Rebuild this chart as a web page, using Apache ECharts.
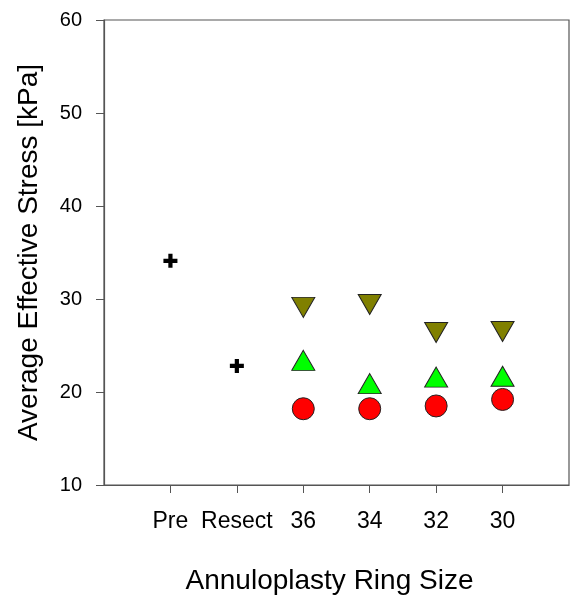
<!DOCTYPE html>
<html><head>
<meta charset="utf-8">
<title>Average Effective Stress</title>
<script src="https://cdn.jsdelivr.net/npm/echarts@6/dist/echarts.min.js"></script>
<style>
html,body{margin:0;padding:0;background:#fff;}
#main{width:577px;height:601px;}
</style>
</head>
<body>
<div id="main"></div>
<script type="text/javascript">
// category positions on the x value axis and their labels
var xPos = [1, 2, 3, 4, 5, 6];
var xLabels = ['Pre', 'Resect', '36', '34', '32', '30'];
var yTicks = [10, 20, 30, 40, 50, 60];

// Pre / Resect (plus markers)
var baseX = [1, 2];
var baseVals = [34.1, 22.8];

// ring sizes 36, 34, 32, 30
var ringX = [3, 4, 5, 6];
var downVals = [29.1, 29.4, 26.4, 26.5];   // olive down triangle
var upVals = [23.4, 20.9, 21.6, 21.7];     // green up triangle
var circleVals = [18.2, 18.2, 18.5, 19.2]; // red circle

function pairs(xs, ys) {
    var out = [];
    for (var i = 0; i < xs.length; i++) out.push([xs[i], ys[i]]);
    return out;
}

var font = 'Liberation Sans, Arial, sans-serif';
var axisColor = '#555';

var myChart = echarts.init(document.getElementById('main'));
var option = {
    animation: false,
    grid: {
        left: 104, right: 8, top: 20, bottom: 116,
        show: true, borderColor: axisColor, borderWidth: 1.2
    },
    xAxis: {
        type: 'value',
        min: 0, max: 7, interval: 1,
        name: 'Annuloplasty Ring Size',
        nameLocation: 'middle',
        nameGap: 82,
        nameTextStyle: { fontFamily: font, fontSize: 28, color: '#000', padding: [0, 14, 0, 0] },
        splitLine: { show: false },
        axisLine: { lineStyle: { color: axisColor, width: 1.2 } },
        axisTick: { length: 8, customValues: xPos, lineStyle: { color: axisColor } },
        axisLabel: {
            customValues: xPos,
            margin: 25,
            fontFamily: font, fontSize: 23, color: '#000',
            formatter: function (v) { return xLabels[xPos.indexOf(v)]; }
        }
    },
    yAxis: {
        type: 'value',
        min: 10, max: 60, interval: 10,
        name: 'Average Effective Stress [kPa]',
        nameLocation: 'middle',
        nameGap: 61,
        nameTextStyle: { fontFamily: font, fontSize: 28, color: '#000' },
        splitLine: { show: false },
        axisLine: { show: true, lineStyle: { color: axisColor, width: 1.2 } },
        axisTick: { show: true, length: 8, lineStyle: { color: axisColor } },
        axisLabel: {
            margin: 22,
            fontFamily: font, fontSize: 20, color: '#000',
            formatter: function (v) { return yTicks.indexOf(v) >= 0 ? String(v) : ''; }
        }
    },
    series: [
        {
            type: 'scatter',
            data: pairs(baseX, baseVals),
            symbol: 'path://M3.5,0H6.5V3.5H10V6.5H6.5V10H3.5V6.5H0V3.5H3.5Z',
            symbolSize: 14,
            itemStyle: { color: '#000', opacity: 1 }
        },
        {
            type: 'scatter',
            data: pairs(ringX, downVals),
            symbol: 'triangle',
            symbolRotate: 180,
            symbolSize: [23, 20],
            itemStyle: { color: '#808000', borderColor: '#222', borderWidth: 1, opacity: 1 }
        },
        {
            type: 'scatter',
            data: pairs(ringX, upVals),
            symbol: 'triangle',
            symbolSize: [23, 20],
            itemStyle: { color: '#00ff00', borderColor: '#222', borderWidth: 1, opacity: 1 }
        },
        {
            type: 'scatter',
            data: pairs(ringX, circleVals),
            symbol: 'circle',
            symbolSize: 22,
            itemStyle: { color: '#ff0000', borderColor: '#222', borderWidth: 1, opacity: 1 }
        }
    ]
};
myChart.setOption(option);
</script>
</body>
</html>
